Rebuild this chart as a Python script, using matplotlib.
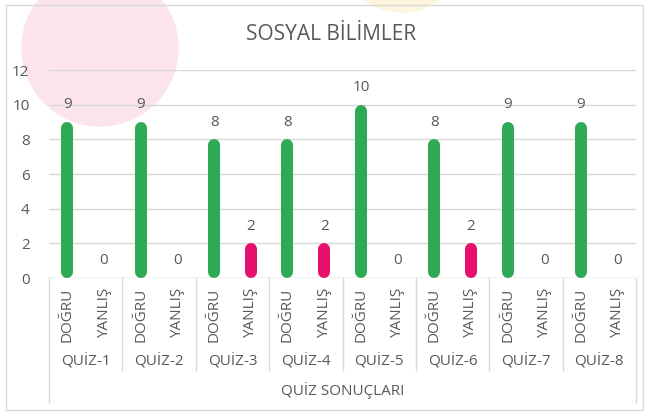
import matplotlib.pyplot as plt
from matplotlib.patches import Ellipse, Rectangle
import matplotlib.transforms as mtransforms

# data
quizzes = ['QUİZ-1', 'QUİZ-2', 'QUİZ-3', 'QUİZ-4',
           'QUİZ-5', 'QUİZ-6', 'QUİZ-7', 'QUİZ-8']
answer_types = ['DOĞRU', 'YANLIŞ']
dogru = [9, 9, 8, 8, 10, 8, 9, 9]
yanlis = [0, 0, 2, 2, 0, 2, 0, 0]
yticks = [0, 2, 4, 6, 8, 10, 12]

GREEN = '#2EAA55'
PINK = '#E6106C'
TEXT = '#595959'
LINE = '#D9D9D9'

plt.rcParams['font.family'] = ['Open Sans', 'DejaVu Sans']

W, H = 651, 415
fig = plt.figure(figsize=(W / 100, H / 100), dpi=100)


def px(x0, y0, x1, y1):
    """pixel box (top-left origin) -> figure fraction rect"""
    return [x0 / W, 1 - y1 / H, (x1 - x0) / W, (y1 - y0) / H]


# decorative background shapes and chart border
fig.patches.append(Ellipse((100 / W, 1 - 48 / H), 156 / W, 156 / H,
                           transform=fig.transFigure, color='#FCE4EC',
                           zorder=-2))
fig.patches.append(Ellipse((402 / W, 1 + 50 / H), 124 / W, 124 / H,
                           transform=fig.transFigure, color='#FFF5DC',
                           zorder=-2))
fig.patches.append(Rectangle((6 / W, 1 - 410 / H), 637 / W, 405 / H,
                             transform=fig.transFigure, fill=False,
                             edgecolor=LINE, linewidth=1, zorder=-1))

ax_h = 278 - 70
ax = fig.add_axes(px(49, 70, 636, 278))
ax.set_facecolor('none')
ax.set_xlim(0, 2 * len(quizzes))
ax.set_ylim(0, 12)
ax.set_yticks(yticks)
ax.set_xticks([])
for s in ax.spines.values():
    s.set_visible(False)
ax.grid(axis='y', color=LINE, linewidth=1)
ax.set_axisbelow(True)
ax.tick_params(axis='y', length=0, pad=14, labelsize=11, labelcolor=TEXT)
ax.axhline(0, color=LINE, linewidth=1, zorder=1)

# rounded bars
r = 6 / ax_h * 12
for i in range(len(quizzes)):
    for j, (vals, col) in enumerate([(dogru, GREEN), (yanlis, PINK)]):
        v = vals[i]
        x = 2 * i + j + 0.5
        if v > 0:
            ax.plot([x, x], [r, v - r], color=col, linewidth=12 * 0.72,
                    solid_capstyle='round', zorder=3)
        ax.annotate(str(v), (x, v), xytext=(0, 7), textcoords='offset points',
                    ha='center', va='bottom', fontsize=11, color=TEXT)

# multi-level category axis
trans = mtransforms.blended_transform_factory(ax.transData, ax.transAxes)
for k in range(len(quizzes) + 1):
    x = 2 * k
    bottom = -124 / ax_h if k in (0, len(quizzes)) else -92 / ax_h
    ax.plot([x, x], [0, bottom], color=LINE, linewidth=1,
            transform=trans, clip_on=False)
for i, q in enumerate(quizzes):
    for j, lab in enumerate(answer_types):
        ax.text(2 * i + j + 0.5, -10 / ax_h, lab, transform=trans,
                rotation=90, ha='center', va='top', fontsize=11, color=TEXT)
    ax.text(2 * i + 1, -83 / ax_h, q, transform=trans,
            ha='center', va='center', fontsize=11, color=TEXT)
ax.text(len(quizzes), -112 / ax_h, 'QUİZ SONUÇLARI', transform=trans,
        ha='center', va='center', fontsize=11, color=TEXT)

fig.text(331 / W, 1 - 35 / H, 'SOSYAL BİLİMLER', ha='center', va='center',
         fontsize=15, color=TEXT)

fig.savefig('out.png', dpi=100)
